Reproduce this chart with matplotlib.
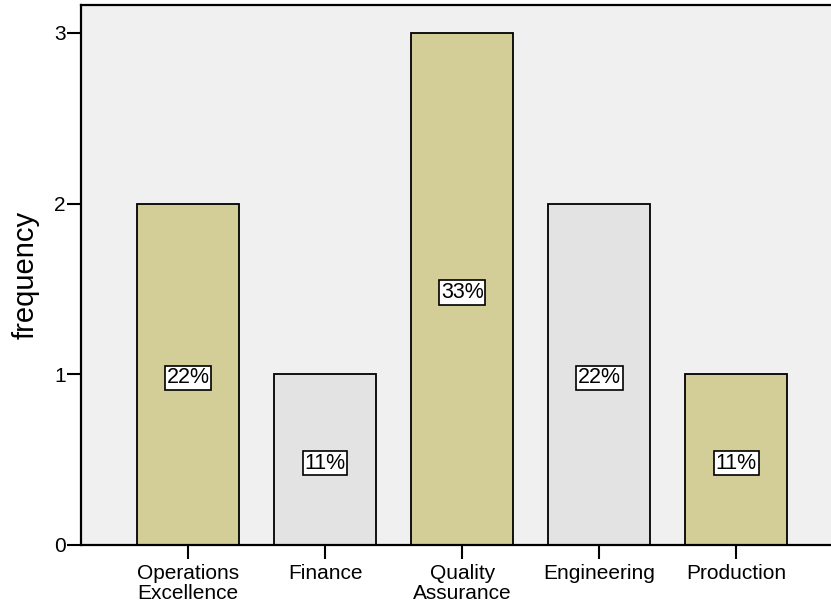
import matplotlib
matplotlib.use("Agg")
import matplotlib.pyplot as plt

categories = ["Operations\nExcellence", "Finance", "Quality\nAssurance", "Engineering", "Production"]
frequency = [2, 1, 3, 2, 1]
percent_labels = ["22%", "11%", "33%", "22%", "11%"]
bar_colors = ["#D3CE97", "#E3E3E3", "#D3CE97", "#E3E3E3", "#D3CE97"]

plt.rcParams['font.family'] = ['Liberation Sans', 'DejaVu Sans']

fig = plt.figure(figsize=(8.31, 6.07), dpi=100)
ax = fig.add_axes([81/831, 62/607, 1 - 81/831, (545-5)/607])
ax.set_facecolor("#F0F0F0")

x = list(range(len(categories)))
ax.bar(x, frequency, width=0.745, color=bar_colors, edgecolor="black", linewidth=1.3, zorder=2)
for xi, f, lab in zip(x, frequency, percent_labels):
    ax.annotate(lab, xy=(xi, f / 2), xytext=(0, -2.5), textcoords="offset points",
                ha="center", va="center", fontsize=15.5, zorder=3,
                bbox=dict(boxstyle="square,pad=0.08", facecolor="white", edgecolor="black", linewidth=1.2))

ax.set_xlim(-0.78, 4.69)
ax.set_ylim(0, 3.164)
ax.set_xticks(x)
ax.set_xticklabels(categories, fontsize=15, linespacing=1.05)
ax.set_yticks([0, 1, 2, 3])
ax.set_yticklabels(["0", "1", "2", "3"], fontsize=15)
ax.set_ylabel("frequency", fontsize=21, labelpad=10)
ax.tick_params(axis="both", direction="out", length=10, width=1.5, color="black", pad=1)
ax.tick_params(axis="x", pad=4)
for s in ["left", "bottom", "top"]:
    ax.spines[s].set_linewidth(1.6)
ax.spines["right"].set_visible(False)

fig.savefig("out.png", dpi=100)
